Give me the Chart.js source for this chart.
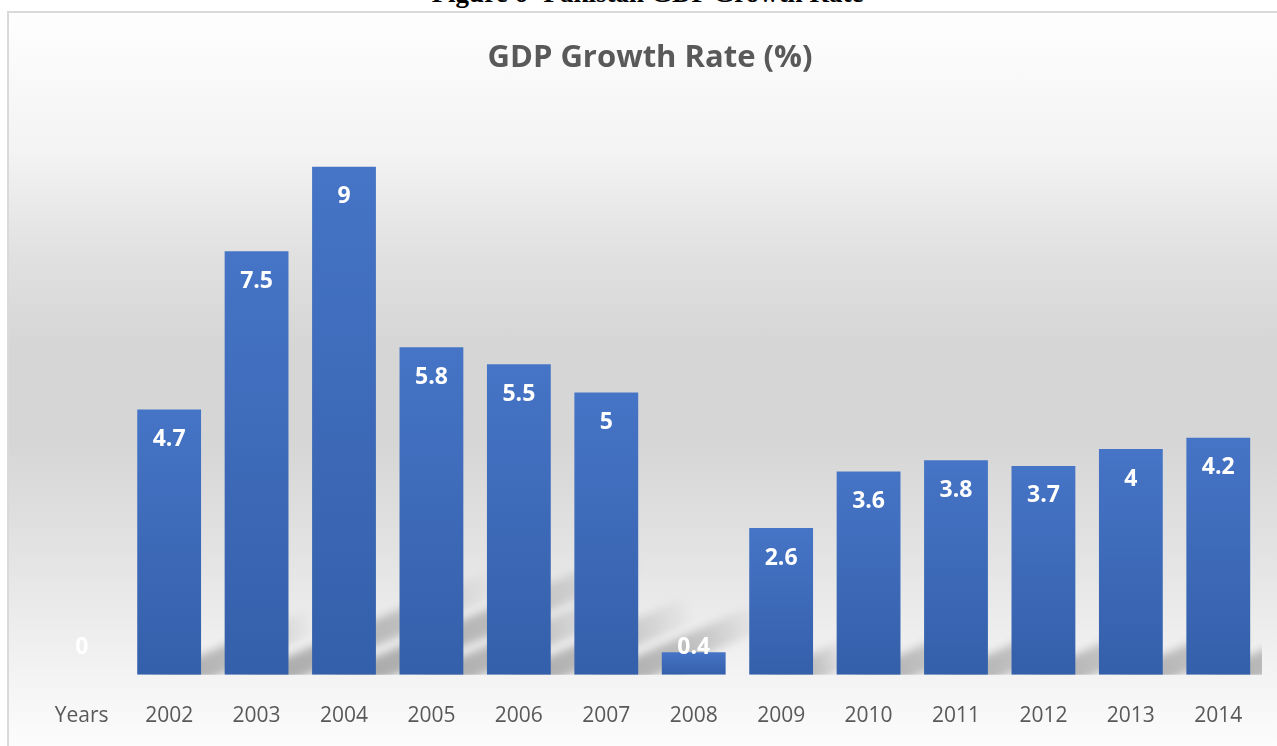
<!DOCTYPE html>
<html>
<head>
<meta charset="utf-8">
<script src="https://cdn.jsdelivr.net/npm/chart.js@4/dist/chart.umd.min.js"></script>
<style>
  html, body { margin: 0; padding: 0; width: 1277px; height: 746px; overflow: hidden; background: #fff; }
  #caption {
    position: absolute; left: 0; width: 1295px; top: -20px; text-align: center;
    font: bold 27px "Liberation Serif", "Times New Roman", serif; line-height: 27px; color: #000;
  }
  #frame {
    position: absolute; left: 7px; top: 11px; width: 1300px; height: 800px;
    border: 2px solid #d9d9d9; box-sizing: border-box;
    background: linear-gradient(to bottom, #fefefe 0px, #f3f3f3 140px, #e1e1e1 240px, #d6d6d6 330px,
      #d6d6d6 430px, #e3e3e3 540px, #efefef 630px, #f7f7f7 690px, #fcfcfc 735px, #fdfdfd 800px);
  }
  #chart { position: absolute; left: 0; top: 0; }
</style>
</head>
<body>
<div id="caption">Figure 6- Pakistan GDP Growth Rate</div>
<div id="frame"></div>
<canvas id="chart" width="1277" height="777"></canvas>
<script>
const categories = ['Years', '2002', '2003', '2004', '2005', '2006', '2007', '2008', '2009', '2010', '2011', '2012', '2013', '2014'];
const growthRate = [0, 4.7, 7.5, 9, 5.8, 5.5, 5, 0.4, 2.6, 3.6, 3.8, 3.7, 4, 4.2];
const chartTitle = 'GDP Growth Rate (%)';

const TEXT_GREY = '#595959';

// vertical gradient per bar, from its own top down to the baseline
function barFill(c) {
  const chart = c.chart;
  const ys = chart.scales.y;
  if (!ys || c.type !== 'data') return '#4472C4';
  const top = ys.getPixelForValue(c.raw);
  const bot = ys.getPixelForValue(0);
  if (!Number.isFinite(top) || !Number.isFinite(bot)) return '#4472C4';
  if (bot - top < 1) return '#3F6BBA';
  const g = chart.ctx.createLinearGradient(0, top, 0, bot);
  g.addColorStop(0, '#4674C6');
  g.addColorStop(1, '#345FAA');
  return g;
}

// soft floor shadows falling to the upper right behind each bar
const barShadows = {
  id: 'barShadows',
  beforeDatasetsDraw(chart) {
    const { ctx, chartArea } = chart;
    const meta = chart.getDatasetMeta(0);
    ctx.save();
    ctx.beginPath();
    ctx.rect(chartArea.left, chartArea.top, chartArea.right - chartArea.left, chartArea.bottom - chartArea.top);
    ctx.clip();
    ctx.filter = 'blur(4px)';
    meta.data.forEach((el) => {
      const { x, y, base, width } = el.getProps(['x', 'y', 'base', 'width'], true);
      const h = base - y;
      if (!(h >= 2)) return;
      const dy = h * 0.25;
      const dx = dy / 0.4;
      const x0 = x - width / 2 + 6;
      const x1 = x + width / 2 + 6;
      const g = ctx.createLinearGradient(x0, base, x0 + dx, base - dy);
      g.addColorStop(0, 'rgba(0,0,0,0.32)');
      g.addColorStop(0.6, 'rgba(0,0,0,0.2)');
      g.addColorStop(1, 'rgba(0,0,0,0)');
      ctx.fillStyle = g;
      ctx.beginPath();
      ctx.moveTo(x0, base + 6);
      ctx.lineTo(x1, base + 6);
      ctx.lineTo(x1 + dx, base - dy);
      ctx.lineTo(x0 + dx, base - dy);
      ctx.closePath();
      ctx.fill();
    });
    ctx.restore();
  }
};

// white value labels just inside the top of each bar
const valueLabels = {
  id: 'valueLabels',
  afterDatasetsDraw(chart) {
    const { ctx } = chart;
    const meta = chart.getDatasetMeta(0);
    ctx.save();
    ctx.fillStyle = '#ffffff';
    ctx.font = 'bold 23px "Open Sans", sans-serif';
    ctx.textAlign = 'center';
    ctx.textBaseline = 'middle';
    meta.data.forEach((el, i) => {
      const { x, y, base } = el.getProps(['x', 'y', 'base'], true);
      const ty = Math.min(y + 30, base - 27);
      ctx.fillText(String(growthRate[i]), x, ty);
    });
    ctx.restore();
  }
};

new Chart(document.getElementById('chart'), {
  type: 'bar',
  data: {
    labels: categories,
    datasets: [{
      data: growthRate,
      backgroundColor: barFill,
      borderWidth: 0,
      barPercentage: 0.73,
      categoryPercentage: 1,
    }],
  },
  options: {
    responsive: false,
    devicePixelRatio: 1,
    animation: false,
    layout: { padding: { left: 38, right: 15, top: 0, bottom: 19 } },
    plugins: {
      legend: { display: false },
      tooltip: { enabled: false },
      title: {
        display: true,
        text: chartTitle,
        color: TEXT_GREY,
        font: { family: 'Open Sans', size: 31, weight: 'bold' },
        padding: { top: 40, bottom: 33 },
      },
    },
    scales: {
      x: {
        grid: { display: false, drawTicks: false },
        border: { display: false },
        ticks: {
          color: TEXT_GREY,
          font: { family: 'Open Sans', size: 21 },
          padding: 29,
          maxRotation: 0,
          autoSkip: false,
        },
      },
      y: { display: false, min: 0, max: 10 },
    },
  },
  plugins: [barShadows, valueLabels],
});
</script>
</body>
</html>
